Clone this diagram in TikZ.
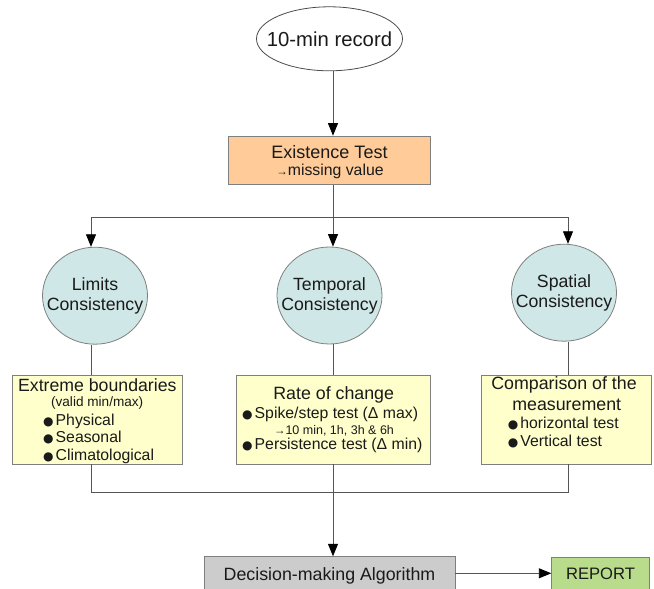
\documentclass[tikz,border=0pt]{standalone}
\usepackage{fontspec}
\setmainfont{Liberation Sans}
\newfontfamily\dejavu{DejaVu Sans}
\usetikzlibrary{arrows.meta,shapes.geometric}
\definecolor{txt}{HTML}{1A1A1A}
\definecolor{bord}{HTML}{7F7F7F}
\definecolor{lnc}{HTML}{555555}
\definecolor{orangef}{HTML}{FFCC99}
\definecolor{circf}{HTML}{CFE7E6}
\definecolor{yellowf}{HTML}{FFFFCC}
\definecolor{greyf}{HTML}{CCCCCC}
\definecolor{greenf}{HTML}{B9DC8C}
\newcommand{\bul}{\makebox[12.5pt][l]{\fontsize{12}{12}\selectfont\dejavu ●}}
\newcommand{\smallarr}{{\fontsize{11.5}{11}\selectfont →}}
\tikzset{
  x=1pt, y=1pt,
  every node/.style={text=txt, inner sep=0pt},
  boxs/.style={draw=bord, line width=0.8pt, rectangle},
  ybox/.style={boxs, fill=yellowf, minimum width=170.4pt, minimum height=88.3pt},
  circs/.style={ellipse, draw=bord, line width=0.8pt, fill=circf, minimum width=105pt, minimum height=97pt},
  ctext/.style={align=center, font=\fontsize{17.7}{20}\selectfont},
  ln/.style={draw=lnc, line width=0.9pt},
  arr/.style={ln, -{Triangle[length=12.5pt,width=10pt,fill=black,color=black]}},
  title/.style={anchor=base, font=\fontsize{17.5}{20}\selectfont},
  item/.style={anchor=base west, font=\fontsize{15.8}{18}\selectfont},
}
\begin{document}
\begin{tikzpicture}
\useasboundingbox (0,0) rectangle (654,589);
% column coordinates
\coordinate (lx) at (91,0);
\coordinate (cx) at (333,0);
\coordinate (rx) at (568,0);
\coordinate (sl) at (91,371.7);
\coordinate (jl) at (91,96.3);
\coordinate (ay) at (0,15.7);

% start ellipse
\node[ellipse, draw=black!70, line width=0.8pt, fill=white, minimum width=146pt, minimum height=64pt] (rec) at (329.5,550.2) {};
\node[font=\fontsize{20.3}{24}\selectfont] (rect) at (rec.center) {10-min record};

% existence test
\node[boxs, fill=orangef, minimum width=202.4pt, minimum height=48.3pt] (ex) at (329.5,428.8) {};
\node[anchor=base, font=\fontsize{18}{20}\selectfont] (ext1) at (329.5,430.7) {Existence Test};
\node[anchor=base, font=\fontsize{15.8}{18}\selectfont] (ext2) at (330,413) {\smallarr missing value};

% consistency circles
\node[circs] (lim) at (95,293.3) {};
\node[ctext] (limt) at (lim.center) {Limits\\Consistency};
\node[circs] (tem) at (329.5,293.5) {};
\node[ctext] (temt) at (tem.center) {Temporal\\Consistency};
\node[circs] (spa) at (564,296.3) {};
\node[ctext] (spat) at (spa.center) {Spatial\\Consistency};

% box 1
\node[ybox] (b1) at (97.5,169.15) {};
\node[title, font=\fontsize{17.7}{20}\selectfont] (b1a) at (97.3,197.3) {Extreme boundaries};
\node[anchor=base, font=\fontsize{13.6}{16}\selectfont] (b1b) at (97.2,182.5) {(valid min/max)};
\node[item] (b1c) at (43,163.3) {\bul Physical};
\node[item] (b1d) at (43,146.3) {\bul Seasonal};
\node[item] (b1e) at (43,128.6) {\bul Climatological};

% box 2
\node[ybox, minimum width=194pt] (b2) at (333.7,169.15) {};
\node[title, font=\fontsize{17.8}{20}\selectfont] (b2a) at (333.7,189) {Rate of change};
\node[item] (b2b) at (242,170.7) {\bul Spike/step test (Δ max)};
\node[anchor=base, font=\fontsize{12.5}{14}\selectfont] (b2c) at (334,154) {\smallarr 10 min, 1h, 3h \& 6h};
\node[item] (b2d) at (242,139) {\bul Persistence test (Δ min)};

% box 3
\node[ybox, minimum width=170pt] (b3) at (566.7,169.15) {};
\node[title, font=\fontsize{17.8}{20}\selectfont] (b3a) at (564,199) {Comparison of the};
\node[title, font=\fontsize{17.8}{20}\selectfont] (b3b) at (566.7,178.3) {measurement};
\node[item] (b3c) at (507.7,160.7) {\bul horizontal test};
\node[item] (b3d) at (507.7,142.3) {\bul Vertical test};

% bottom boxes
\node[boxs, fill=greyf, minimum width=251pt, minimum height=37.8pt, font=\fontsize{17.8}{20}\selectfont] (dec) at (329.5,13.4) {Decision-making Algorithm};
\node[boxs, fill=greenf, minimum width=97.6pt, minimum height=33pt, font=\fontsize{16.6}{20}\selectfont] (rep) at (600.5,14.8) {REPORT};

% connectors
\draw[arr] (rec.south -| cx) -- (ex.north -| cx);
\draw[arr] (ex.south -| cx) -- (tem.north -| cx);
\draw[arr] (cx |- sl) -| (lim.north -| lx);
\draw[arr] (cx |- sl) -| (spa.north -| rx);
\draw[ln] (lim.south -| lx) -- (b1.north -| lx);
\draw[ln] (tem.south -| cx) -- (b2.north -| cx);
\draw[ln] (spa.south -| rx) -- (b3.north -| rx);
\draw[ln] (b1.south -| lx) -- (jl) -| (b3.south -| rx);
\draw[ln] (b2.south -| cx) -- (cx |- jl);
\draw[arr] (cx |- jl) -- (dec.north -| cx);
\draw[arr] (dec.east |- ay) -- (rep.west |- ay);
\end{tikzpicture}
\end{document}
